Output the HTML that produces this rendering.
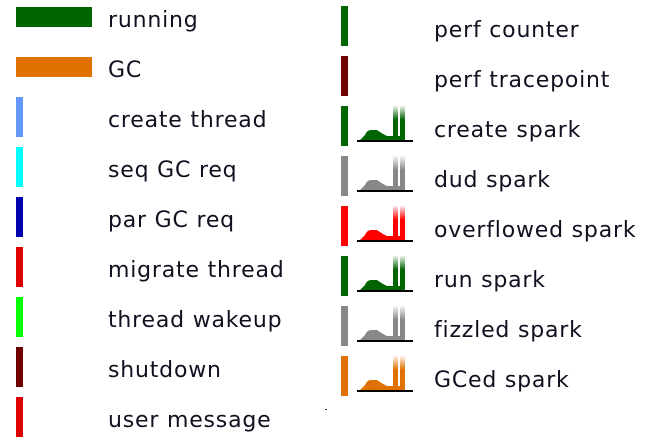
<!DOCTYPE html>
<html><head><style>
html,body{margin:0;padding:0;background:#fff;width:650px;height:441px;overflow:hidden}
text{font-family:"DejaVu Sans","Liberation Sans",sans-serif;font-size:22px;letter-spacing:0.8px;fill:#101020}
</style></head><body>
<svg width="650" height="441" xmlns="http://www.w3.org/2000/svg">
<defs>
<symbol id="sp" viewBox="0 0 60 40">
<path d="M3 34 L8 29 Q10 24 14 24 L20 24 Q24 27 30 30 L36 30 L36 0 L41 0 L41 30 L43 30 L43 0 L48 0 L48 34 Z"/>
</symbol>
<linearGradient id="fade" x1="0" y1="0" x2="0" y2="1">
<stop offset="0" stop-color="#fff" stop-opacity="1"/>
<stop offset="0.5" stop-color="#fff" stop-opacity="0"/>
</linearGradient>
</defs>
<rect x="16" y="7" width="76" height="20" fill="#006400"/>
<rect x="16" y="57" width="76" height="20" fill="#e07000"/>
<rect x="16" y="97" width="7" height="40" fill="#6699ff"/>
<rect x="16" y="147" width="7" height="40" fill="#00ffff"/>
<rect x="16" y="197" width="7" height="40" fill="#0000b0"/>
<rect x="16" y="247" width="7" height="40" fill="#dd0000"/>
<rect x="16" y="297" width="7" height="40" fill="#00ff00"/>
<rect x="16" y="347" width="7" height="40" fill="#700000"/>
<rect x="16" y="397" width="7" height="40" fill="#dd0000"/>
<text x="108" y="27">running</text>
<text x="108" y="77">GC</text>
<text x="108" y="127">create thread</text>
<text x="108" y="177">seq GC req</text>
<text x="108" y="227">par GC req</text>
<text x="108" y="277">migrate thread</text>
<text x="108" y="327">thread wakeup</text>
<text x="108" y="377">shutdown</text>
<text x="108" y="427">user message</text>

<rect x="341" y="6" width="7" height="40" fill="#006400"/>
<rect x="341" y="56" width="7" height="40" fill="#700000"/>
<rect x="341" y="106" width="7" height="40" fill="#006400"/>
<use href="#sp" x="357" y="106" width="60" height="40" fill="#006400"/>
<rect x="341" y="156" width="7" height="40" fill="#888"/>
<use href="#sp" x="357" y="156" width="60" height="40" fill="#888"/>
<rect x="341" y="206" width="7" height="40" fill="#ff0000"/>
<use href="#sp" x="357" y="206" width="60" height="40" fill="#ff0000"/>
<rect x="341" y="256" width="7" height="40" fill="#006400"/>
<use href="#sp" x="357" y="256" width="60" height="40" fill="#006400"/>
<rect x="341" y="306" width="7" height="40" fill="#888"/>
<use href="#sp" x="357" y="306" width="60" height="40" fill="#888"/>
<rect x="341" y="356" width="7" height="40" fill="#e07000"/>
<use href="#sp" x="357" y="356" width="60" height="40" fill="#e07000"/>
<g fill="url(#fade)">
<rect x="390" y="105" width="20" height="30"/><rect x="390" y="155" width="20" height="30"/>
<rect x="390" y="205" width="20" height="30"/><rect x="390" y="255" width="20" height="30"/>
<rect x="390" y="305" width="20" height="30"/><rect x="390" y="355" width="20" height="30"/>
</g>
<g fill="#000">
<rect x="357" y="140" width="56" height="2"/><rect x="357" y="190" width="56" height="2"/>
<rect x="357" y="240" width="56" height="2"/><rect x="357" y="290" width="56" height="2"/>
<rect x="357" y="340" width="56" height="2"/><rect x="357" y="390" width="56" height="2"/>
</g>
<rect x="325" y="409" width="2" height="1" fill="#336"/>
<text x="434" y="37">perf counter</text>
<text x="434" y="87">perf tracepoint</text>
<text x="434" y="137">create spark</text>
<text x="434" y="187">dud spark</text>
<text x="434" y="237">overflowed spark</text>
<text x="434" y="287">run spark</text>
<text x="434" y="337">fizzled spark</text>
<text x="434" y="387">GCed spark</text>
</svg>
</body></html>
